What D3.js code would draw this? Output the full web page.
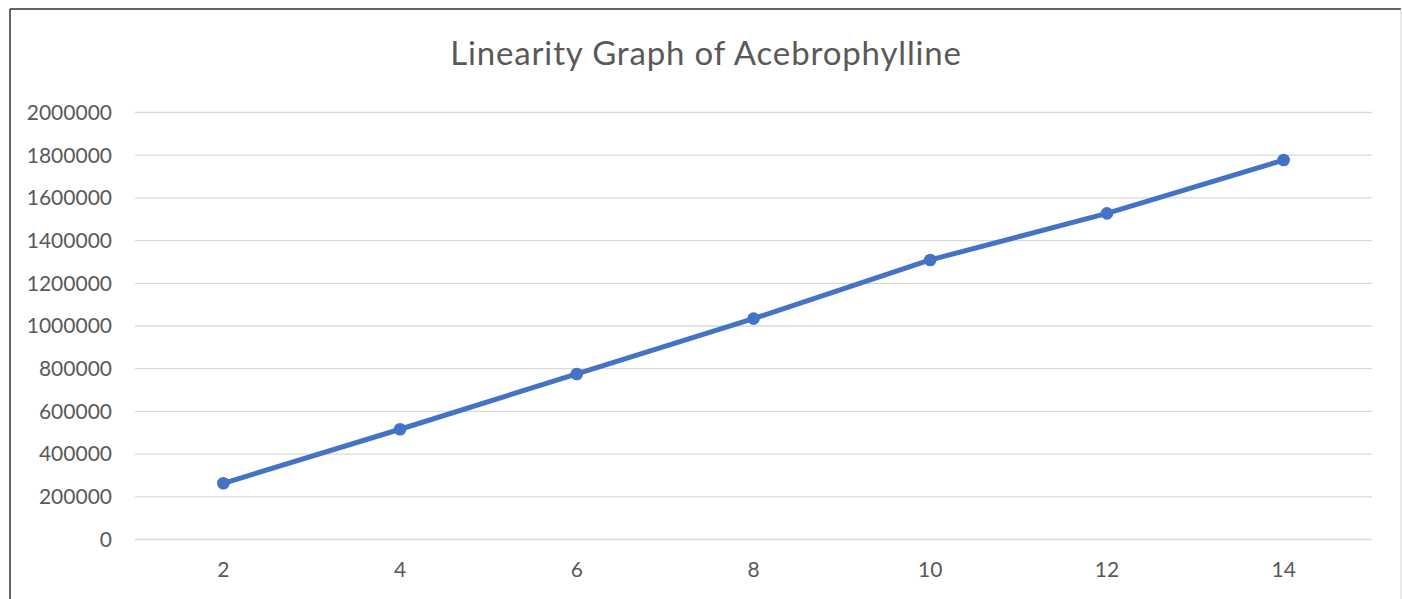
<!DOCTYPE html>
<html>
<head>
<meta charset="utf-8">
<script src="https://cdn.jsdelivr.net/npm/d3@7"></script>
<style>
  html, body { margin: 0; padding: 0; background: #fff; }
  svg { display: block; }
</style>
</head>
<body>
<svg id="chart" width="1402" height="599"></svg>
<script>
// Concentration levels (x categories) and peak areas
const concentrations = ["2", "4", "6", "8", "10", "12", "14"];
const peakAreas = [261000, 514000, 773000, 1032000, 1307000, 1525000, 1775000];
const yTicks = [0, 200000, 400000, 600000, 800000, 1000000, 1200000, 1400000, 1600000, 1800000, 2000000];
const chartTitle = "Linearity Graph of Acebrophylline";

const svg = d3.select("#chart");
const W = 1402, H = 599;
const plot = { left: 135, right: 1372, top: 112, bottom: 539 };
const font = "Lato, 'Open Sans', sans-serif";
const textColor = "#595959";

// Chart frame
svg.append("rect").attr("x", 0).attr("y", 0).attr("width", W).attr("height", H).attr("fill", "#fff");
svg.append("line").attr("x1", 10).attr("x2", 1401).attr("y1", 9).attr("y2", 9)
  .attr("stroke", "#333").attr("stroke-width", 1.5);
svg.append("line").attr("x1", 10).attr("x2", 10).attr("y1", 9).attr("y2", H)
  .attr("stroke", "#333").attr("stroke-width", 1.5);
svg.append("line").attr("x1", 1401).attr("x2", 1401).attr("y1", 9).attr("y2", H)
  .attr("stroke", "#d4d4d4").attr("stroke-width", 1);

const x = d3.scaleBand().domain(concentrations).range([plot.left, plot.right]);
const y = d3.scaleLinear().domain([0, 2000000]).range([plot.bottom, plot.top]);

// Horizontal gridlines with value labels
const yAxis = d3.axisLeft(y).tickValues(yTicks).tickFormat(d3.format("d"))
  .tickSize(-(plot.right - plot.left)).tickPadding(23);
const gy = svg.append("g").attr("transform", `translate(${plot.left},0)`).call(yAxis);
gy.select(".domain").remove();
gy.selectAll(".tick line").attr("stroke", "#d9d9d9").attr("stroke-width", 1.3);
gy.selectAll(".tick text").attr("fill", textColor).attr("font-family", font)
  .attr("font-size", 21).attr("dy", "0.35em");

// Category labels
const xAxis = d3.axisBottom(x).tickSize(0).tickPadding(23);
const gx = svg.append("g").attr("transform", `translate(0,${plot.bottom})`).call(xAxis);
gx.select(".domain").remove();
gx.selectAll(".tick text").attr("fill", textColor).attr("font-family", font)
  .attr("font-size", 21);

// Series line and markers
const cx = (d, i) => x(concentrations[i]) + x.bandwidth() / 2;
const line = d3.line().x(cx).y(d => y(d));
svg.append("path").datum(peakAreas).attr("d", line)
  .attr("fill", "none").attr("stroke", "#4472C4").attr("stroke-width", 5)
  .attr("stroke-linejoin", "round").attr("stroke-linecap", "round");
svg.selectAll("circle.pt").data(peakAreas).join("circle").attr("class", "pt")
  .attr("cx", cx).attr("cy", d => y(d)).attr("r", 6.3).attr("fill", "#4472C4");

// Title
svg.append("text").attr("x", 706).attr("y", 65).attr("text-anchor", "middle")
  .attr("fill", textColor).attr("font-family", font).attr("font-size", 33)
  .attr("letter-spacing", 0.85).text(chartTitle);
</script>
</body>
</html>
